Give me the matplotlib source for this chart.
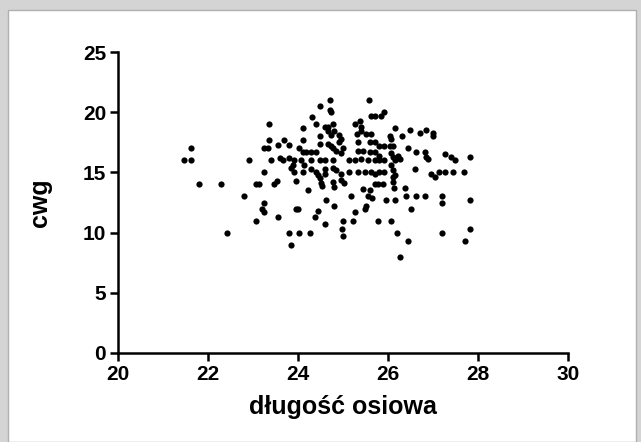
"""Scatter of cwg against axial length (długość osiowa), Prism-like styling."""
import matplotlib
matplotlib.use('Agg')
import matplotlib.pyplot as plt
from matplotlib.patches import Rectangle

# axial length (x) and cwg (y)
dlugosc = [
    21.62, 21.47, 21.63, 21.80, 22.29, 22.43, 23.07, 23.14, 23.47, 23.53,
    22.81, 23.24, 23.20, 23.25, 23.07, 23.55, 23.96, 24.00, 23.81, 24.03,
    23.85, 23.96, 23.25, 24.22, 24.63, 24.81, 24.44, 24.37, 24.59, 24.27,
    25.00, 25.22, 24.98, 25.00, 25.26, 25.18, 25.44, 25.61, 25.55, 25.65,
    25.52, 25.48, 25.78, 25.78, 24.51, 24.54, 24.77, 24.81, 24.96, 25.03,
    24.44, 24.48, 25.89, 26.11, 26.13, 25.96, 26.15, 26.37, 26.41, 26.63,
    26.83, 26.50, 27.21, 27.19, 26.07, 26.20, 26.44, 26.26, 27.21, 25.70,
    26.10, 27.26, 27.41, 27.48, 27.82, 27.26, 27.45, 27.69, 27.82, 27.82,
    27.71, 23.36, 24.10, 23.35, 23.68, 23.55, 23.81, 24.10, 23.25, 23.33,
    24.03, 22.92, 23.40, 23.59, 23.66, 23.81, 23.92, 24.07, 23.88, 23.85,
    23.92, 24.10, 24.70, 25.57, 24.48, 24.70, 24.74, 24.31, 24.40, 24.59,
    24.66, 24.77, 25.26, 25.37, 25.41, 25.63, 25.72, 24.48, 24.66, 24.74,
    24.81, 24.92, 24.96, 24.92, 24.48, 24.66, 24.74, 25.30, 25.41, 25.33,
    25.59, 25.70, 25.52, 25.63, 24.10, 24.18, 24.29, 24.40, 24.29, 24.48,
    24.59, 24.77, 24.77, 24.85, 25.00, 24.96, 25.14, 25.26, 25.41, 25.55,
    25.70, 25.33, 25.44, 25.59, 25.70, 24.14, 24.29, 24.40, 24.77, 24.85,
    24.96, 24.59, 24.59, 25.14, 25.33, 25.48, 25.62, 25.70, 25.85, 25.92,
    26.15, 26.48, 26.70, 26.85, 27.00, 27.00, 26.04, 26.07, 26.30, 25.81,
    25.92, 26.04, 26.11, 26.44, 26.63, 26.82, 26.85, 26.89, 25.81, 26.07,
    26.11, 26.15, 26.22, 26.26, 25.80, 25.90, 25.80, 25.90, 26.07, 26.10,
    26.15, 26.60, 26.95, 27.05, 27.14,
]
cwg = [
    17.0, 16.0, 16.0, 14.0, 14.0, 10.0, 14.0, 14.0, 14.0, 14.3,
    13.0, 12.5, 12.0, 11.7, 11.0, 11.3, 12.0, 12.0, 10.0, 10.0,
    9.0, 14.3, 15.0, 13.5, 12.7, 12.2, 11.8, 11.3, 10.7, 10.0,
    11.0, 11.0, 10.3, 9.7, 11.7, 13.0, 13.6, 13.5, 13.0, 12.9,
    12.2, 12.0, 11.0, 14.0, 14.1, 13.9, 14.2, 13.8, 14.4, 14.1,
    14.8, 14.5, 14.0, 14.2, 13.7, 12.7, 12.7, 13.7, 13.0, 13.0,
    13.0, 12.0, 13.0, 12.5, 11.0, 10.0, 9.3, 8.0, 10.0, 14.0,
    14.6, 16.5, 16.3, 16.0, 16.3, 15.0, 15.0, 15.0, 12.7, 10.3,
    9.3, 19.0, 18.7, 17.7, 17.7, 17.3, 17.3, 17.7, 17.0, 17.0,
    17.0, 16.0, 16.0, 16.2, 16.0, 16.2, 16.0, 16.0, 15.6, 15.4,
    15.0, 15.0, 21.0, 21.0, 20.5, 20.2, 20.0, 19.6, 19.0, 18.8,
    18.8, 19.0, 19.0, 19.3, 18.8, 19.7, 19.7, 18.0, 18.4, 18.1,
    18.4, 18.1, 17.8, 17.5, 17.4, 17.4, 17.2, 18.2, 18.4, 17.5,
    17.5, 17.5, 18.2, 18.2, 16.7, 16.7, 16.7, 16.7, 16.0, 16.0,
    16.0, 16.0, 17.0, 16.8, 17.0, 16.6, 16.0, 16.0, 16.1, 16.0,
    16.0, 16.8, 16.8, 16.7, 16.7, 15.6, 15.3, 15.0, 15.4, 15.2,
    14.9, 15.3, 14.9, 15.0, 15.0, 15.0, 15.0, 14.9, 19.7, 20.0,
    18.7, 18.5, 18.3, 18.5, 18.3, 18.0, 18.0, 17.8, 18.0, 17.2,
    17.2, 17.2, 17.2, 17.0, 16.7, 16.7, 16.3, 16.1, 16.4, 16.6,
    16.3, 16.0, 16.4, 16.1, 16.0, 16.0, 15.0, 15.0, 15.6, 15.2,
    14.8, 15.3, 14.9, 14.6, 15.0,
]

x_ticks = [20, 22, 24, 26, 28, 30]
y_ticks = [0, 5, 10, 15, 20, 25]

plt.rcParams['font.family'] = ['Liberation Sans', 'DejaVu Sans']

fig = plt.figure(figsize=(6.41, 4.42), dpi=100, facecolor='#d4d4d4')
# white card with a thin grey shadow on top / sides
card = Rectangle((8 / 641, 0), 628 / 641, 432 / 442,
                 transform=fig.transFigure, facecolor='white',
                 edgecolor='#b0b0b0', linewidth=1.0, zorder=-10)
fig.add_artist(card)

ax = fig.add_axes([118 / 641, 89 / 442, 450 / 641, 301 / 442])
ax.set_zorder(5)
ax.patch.set_alpha(0)
ax.scatter(dlugosc, cwg, s=20, color='black', linewidths=0, zorder=3,
           clip_on=False)

ax.set_xlim(20, 30)
ax.set_ylim(0, 25)
ax.set_xticks(x_ticks)
ax.set_yticks(y_ticks)
for side in ('top', 'right'):
    ax.spines[side].set_visible(False)
for side in ('left', 'bottom'):
    ax.spines[side].set_linewidth(1.8)
ax.tick_params(direction='out', length=6, width=1.8, pad=2.5,
               labelsize=15)
for lbl in ax.get_xticklabels() + ax.get_yticklabels():
    lbl.set_fontweight('bold')

ax.set_xlabel('długość osiowa', fontsize=18, fontweight='bold', labelpad=8)
ax.set_ylabel('cwg', fontsize=18, fontweight='bold', labelpad=22)

fig.savefig('out.png', dpi=100, facecolor=fig.get_facecolor())
